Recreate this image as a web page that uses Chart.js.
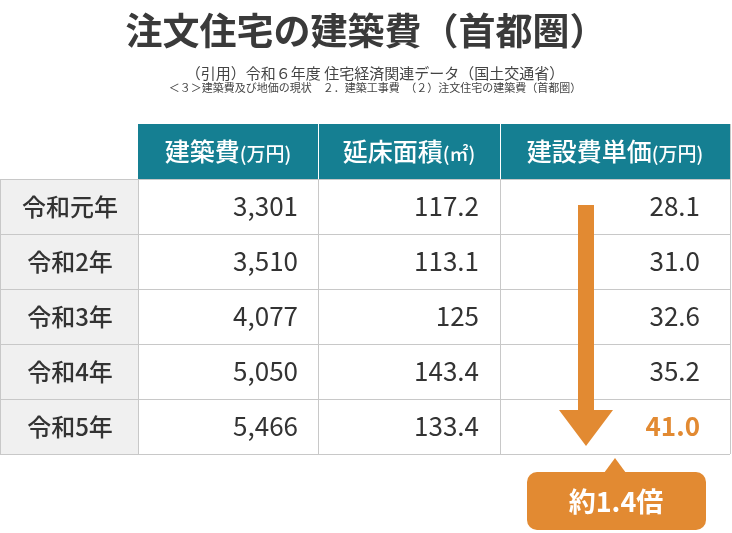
<!DOCTYPE html>
<html><head><meta charset="utf-8">
<script src="https://cdn.jsdelivr.net/npm/chart.js@4/dist/chart.umd.min.js"></script>
<style>html,body{margin:0;padding:0;background:#fff}#w{width:732px;height:533px}</style>
</head><body><div id="w"><canvas id="c"></canvas></div>
<script>
const title = "注文住宅の建築費（首都圏）";
const source1 = "（引用）令和６年度 住宅経済関連データ（国土交通省）";
const source2 = "＜３＞建築費及び地価の現状　２．建築工事費　（２）注文住宅の建築費（首都圏）";
const headers = ["建築費", "延床面積", "建設費単価"];
const headerUnits = ["(万円)", "(㎡)", "(万円)"];
const years = ["令和元年", "令和2年", "令和3年", "令和4年", "令和5年"];
const costs = ["3,301", "3,510", "4,077", "5,050", "5,466"];
const areas = ["117.2", "113.1", "125", "143.4", "133.4"];
const unitPrices = ["28.1", "31.0", "32.6", "35.2", "41.0"];
const ratioLabel = "約1.4倍";

// layout (pixel space of the drawing scales)
const colEdges = [0, 138, 318, 500, 730];
const rowEdges = [124, 179, 234, 289, 344, 399, 454];
const F = '"Noto Sans CJK JP","Noto Sans",sans-serif';
const TEAL = '#157f92', ORANGE = '#e28a32';

const tablePlugin = {
  id: 'table',
  afterDraw(chart) {
    const ctx = chart.ctx, X = v => chart.scales.x.getPixelForValue(v), Y = v => chart.scales.y.getPixelForValue(v);
    ctx.save();
    ctx.textBaseline = 'middle';
    ctx.fillStyle = '#3a3a3a'; ctx.textAlign = 'center';
    ctx.font = 'bold 37px ' + F; ctx.fillText(title, X(366), Y(31));
    ctx.fillStyle = '#444'; ctx.font = '15px ' + F; ctx.fillText(source1, X(375), Y(73));
    ctx.font = '11px ' + F; ctx.fillText(source2, X(375), Y(88));
    // header
    ctx.fillStyle = TEAL;
    ctx.fillRect(X(colEdges[1]), Y(rowEdges[0]), X(colEdges[4]) - X(colEdges[1]), Y(rowEdges[1]) - Y(rowEdges[0]));
    ctx.fillStyle = '#f0f0f0';
    ctx.fillRect(X(colEdges[0]), Y(rowEdges[1]), X(colEdges[1]) - X(colEdges[0]), Y(rowEdges[6]) - Y(rowEdges[1]));
    const hy = Y((rowEdges[0] + rowEdges[1]) / 2);
    headers.forEach((h, i) => {
      const cx = (colEdges[i + 1] + colEdges[i + 2]) / 2;
      ctx.font = '500 25px ' + F; const w1 = ctx.measureText(h).width;
      ctx.font = '500 19px ' + F; const w2 = ctx.measureText(headerUnits[i]).width;
      const x0 = X(cx) - (w1 + w2) / 2;
      ctx.fillStyle = '#fff'; ctx.textAlign = 'left';
      ctx.font = '500 25px ' + F; ctx.fillText(h, x0, hy);
      ctx.font = '500 19px ' + F; ctx.fillText(headerUnits[i], x0 + w1, hy + 2);
    });
    // grid
    ctx.strokeStyle = '#c8c8c8'; ctx.lineWidth = 1;
    for (let r = 1; r < rowEdges.length; r++) {
      ctx.beginPath(); ctx.moveTo(X(colEdges[0]), Y(rowEdges[r]) + .5); ctx.lineTo(X(colEdges[4]), Y(rowEdges[r]) + .5); ctx.stroke();
    }
    ctx.beginPath(); ctx.moveTo(X(colEdges[0]) + .5, Y(rowEdges[1])); ctx.lineTo(X(colEdges[0]) + .5, Y(rowEdges[6])); ctx.stroke();
    for (let c = 1; c < colEdges.length; c++) {
      ctx.beginPath(); ctx.moveTo(X(colEdges[c]) + .5, Y(c === 1 ? rowEdges[1] : rowEdges[0])); ctx.lineTo(X(colEdges[c]) + .5, Y(rowEdges[6])); ctx.stroke();
    }
    ctx.strokeStyle = '#fff';
    for (let c = 2; c < 4; c++) { ctx.beginPath(); ctx.moveTo(X(colEdges[c]) + .5, Y(rowEdges[0])); ctx.lineTo(X(colEdges[c]) + .5, Y(rowEdges[1])); ctx.stroke(); }
    // arrow
    const ax = X(586);
    ctx.fillStyle = ORANGE;
    ctx.fillRect(ax - 8, Y(205), 16, Y(412) - Y(205));
    ctx.beginPath(); ctx.moveTo(ax - 27, Y(410)); ctx.lineTo(ax + 27, Y(410)); ctx.lineTo(ax, Y(446)); ctx.closePath(); ctx.fill();
    // body text
    years.forEach((y, i) => {
      const cy = Y((rowEdges[i + 1] + rowEdges[i + 2]) / 2);
      ctx.fillStyle = '#333'; ctx.textAlign = 'center'; ctx.font = '500 24px ' + F;
      ctx.fillText(y, X(70), cy);
      ctx.textAlign = 'right'; ctx.font = '26px ' + F;
      ctx.fillText(costs[i], X(298), cy);
      ctx.fillText(areas[i], X(479), cy);
      const last = i === years.length - 1;
      ctx.fillStyle = last ? ORANGE : '#333'; ctx.font = (last ? 'bold ' : '') + '26px ' + F;
      ctx.fillText(unitPrices[i], X(700), cy);
    });
    // badge
    ctx.fillStyle = ORANGE;
    ctx.beginPath(); ctx.roundRect(X(527), Y(472), X(706) - X(527), Y(530) - Y(472), 10); ctx.fill();
    ctx.beginPath(); ctx.moveTo(X(604), Y(473)); ctx.lineTo(X(626), Y(473)); ctx.lineTo(X(615), Y(458)); ctx.closePath(); ctx.fill();
    ctx.fillStyle = '#fff'; ctx.textAlign = 'center'; ctx.font = 'bold 27px ' + F;
    ctx.fillText(ratioLabel, X(616), Y(502));
    ctx.restore();
  }
};

new Chart(document.getElementById('c'), {
  type: 'scatter',
  data: { datasets: [{ data: [] }] },
  options: {
    responsive: true, maintainAspectRatio: false, animation: false,
    layout: { padding: 0 },
    plugins: { legend: { display: false }, tooltip: { enabled: false } },
    scales: {
      x: { type: 'linear', min: 0, max: 732, display: false },
      y: { type: 'linear', min: 0, max: 533, reverse: true, display: false }
    }
  },
  plugins: [tablePlugin]
});
</script></body></html>
